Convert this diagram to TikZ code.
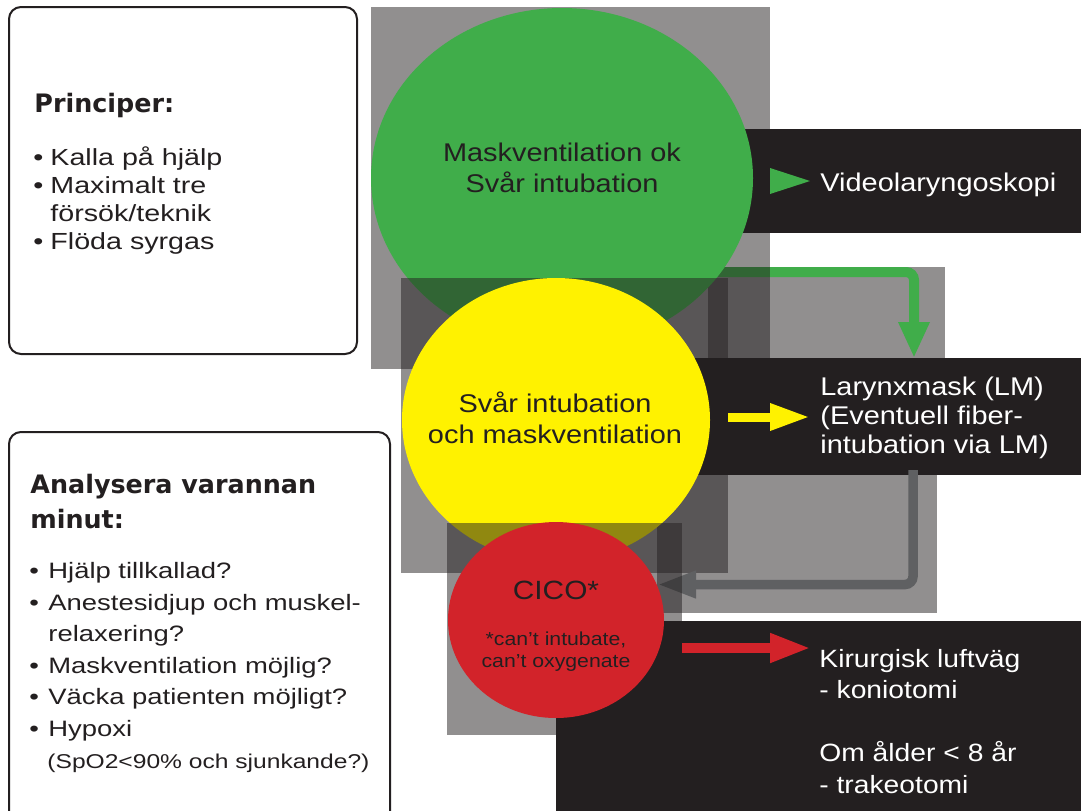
\documentclass[tikz,border=0pt]{standalone}
\usepackage{fontspec}
\setmainfont{Liberation Sans}[FakeStretch=1.13]
\newfontfamily\widefont{Liberation Sans}[FakeStretch=1.23]
\newfontfamily\headfont{DejaVu Sans}
\usepackage{xcolor}
\usetikzlibrary{arrows.meta,positioning,shapes.geometric}

\definecolor{ink}{HTML}{231F20}
\definecolor{okgreen}{HTML}{40AD4A}
\definecolor{warnyellow}{HTML}{FFF200}
\definecolor{alarmred}{HTML}{D2232A}
\definecolor{backgray}{HTML}{5F6062}

\newcommand{\bul}[1][8.5pt]{\makebox[#1][l]{•}}

\begin{document}
\begin{tikzpicture}[
    x=0.5pt, y=-0.5pt,
    veil/.style={fill=ink, fill opacity=0.5, draw=none},
    darkbox/.style={rectangle, fill=ink, draw=none, inner sep=0pt},
    infobox/.style={rectangle, draw=ink, line width=1pt, rounded corners=6pt, inner sep=0pt},
    signal/.style={ellipse, draw=none, inner sep=0pt},
    darktext/.style={text=ink, align=center, inner sep=0pt, font=\fontsize{12.8}{15.5}\selectfont},
    whitetext/.style={text=white, align=left, inner sep=0pt, font=\fontsize{12.8}{14.3}\selectfont},
    headtext/.style={text=ink, align=left, inner sep=0pt, font=\headfont\bfseries\fontsize{12.7}{17.5}\selectfont},
    listtext/.style={text=ink, align=left, inner sep=0pt, font=\widefont\fontsize{11.65}{14}\selectfont}
]
\useasboundingbox (0,0) rectangle (1081,810);

% Panels behind the LM box
\fill[veil] (708,267) rectangle (945,400);
\fill[veil] (657,400) rectangle (937,613);

% Green route down to LM
\coordinate (gout) at (700,272);
\coordinate (lmin) at (914,358);
\draw[okgreen, line width=5pt, rounded corners=4pt, -{Triangle[length=18pt,width=14.5pt]}] (gout) -| (lmin);

% Top panel and dark boxes
\fill[veil] (371,7) rectangle (770,369);
\node[darkbox, minimum width=200pt, minimum height=52pt] (vidbox) at (900,181) {};
\node[darkbox, minimum width=250pt, minimum height=58.5pt] (lmbox) at (850,416.5) {};

% Green level
\node[signal, fill=okgreen, minimum width=191pt, minimum height=170pt] (mask) at (562,178) {};
\fill[okgreen] (770,168) -- (810,181) -- (770,194) -- cycle;

% Yellow level
\fill[veil] (401,278) rectangle (728,573);
\node[signal, fill=warnyellow, minimum width=154pt, minimum height=142pt] (hard) at (556,420) {};
\coordinate (yin) at (810,417);
\draw[warnyellow, line width=4.5pt, shorten <=9pt, -{Triangle[length=20pt,width=12.5pt]}] (hard.east |- yin) -- (yin);

% Back to CICO
\coordinate (lmout) at (913,470);
\coordinate (cicoin) at (657,584.5);
\draw[backgray, line width=4.75pt, rounded corners=4pt, -{Triangle[length=19.5pt,width=12.5pt]}] (lmout) |- (cicoin);

% Red level
\node[darkbox, minimum width=272pt, minimum height=104.5pt] (kirbox) at (828,725.5) {};
\fill[veil] (447,523) rectangle (682,735);
\node[signal, fill=alarmred, minimum width=108pt, minimum height=98pt] (cico) at (556,620) {};
\coordinate (rin) at (811,648);
\draw[alarmred, line width=5pt, shorten <=9pt, -{Triangle[length=20.5pt,width=13.5pt]}] (cico.east |- rin) -- (rin);

% Texts in the circles (base = last line)
\node[darktext, anchor=base] (masktext) at (562,192) {Maskventilation ok\\Svår intubation};
\node[darktext, anchor=base] (hardtext) at (555,443) {Svår intubation\\och maskventilation};
\node[darktext, anchor=base, font=\fontsize{13.2}{15}\selectfont] (cicotext) at (556,599) {CICO*};
\node[darktext, anchor=base, font=\fontsize{9.4}{11}\selectfont] (cicosub) at (556,667) {*can’t intubate,\\can’t oxygenate};

% Texts in the dark boxes
\node[whitetext, anchor=base west] (vidtext) at (820,191) {Videolaryngoskopi};
\node[whitetext, anchor=base west] (lmtext) at (820,453) {Larynxmask (LM)\\(Eventuell fiber-\\intubation via LM)};
\node[whitetext, anchor=base west, font=\fontsize{12.5}{15.75}\selectfont] (kirtext) at (819,793) {Kirurgisk luftväg\\- koniotomi\\[15.75pt]Om ålder < 8 år\\- trakeotomi};

% Principer
\node[infobox, minimum width=174pt, minimum height=173.5pt] (princbox) at (183,180.5) {};
\node[headtext, anchor=base west] (princhead) at (34,112) {Principer:};
\node[listtext, anchor=base west] (princlist) at (33,249) {\bul Kalla på hjälp\\\bul Maximalt tre\\\hspace*{8.5pt}försök/teknik\\\bul Flöda syrgas};

% Analysera
\node[infobox, minimum width=190.5pt, minimum height=199pt] (analbox) at (199.5,631) {};
\node[headtext, anchor=base west] (analhead) at (30,528) {Analysera varannan\\minut:};
\node[listtext, anchor=base west, font=\widefont\fontsize{11.15}{15.8}\selectfont] (anallist) at (29,768) {\bul[9.5pt]Hjälp tillkallad?\\\bul[9.5pt]Anestesidjup och muskel-\\\hspace*{9.5pt}relaxering?\\\bul[9.5pt]Maskventilation möjlig?\\\bul[9.5pt]Väcka patienten möjligt?\\\bul[9.5pt]Hypoxi\\\hspace*{9pt}{\fontsize{10}{12}\selectfont(SpO2<90\% och sjunkande?)}};

\end{tikzpicture}
\end{document}
